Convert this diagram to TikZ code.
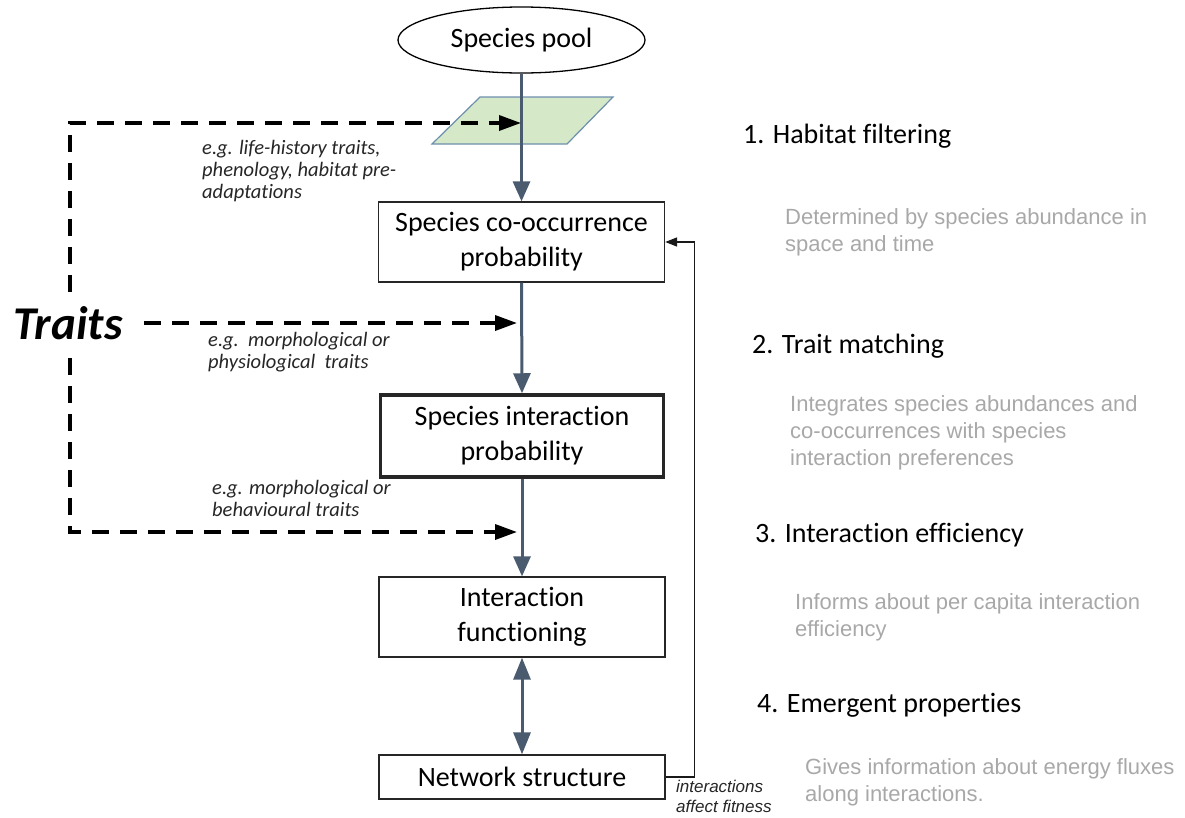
\documentclass[tikz,border=0pt]{standalone}
\usepackage{fontspec}
\setmainfont[Ligatures={NoCommon,NoRare,NoContextual}]{Carlito}
\newfontfamily\arialf{Liberation Sans}
\usetikzlibrary{arrows.meta,shapes.geometric}
\definecolor{slate}{HTML}{4A5B70}
\definecolor{pgreen}{HTML}{D5E8C8}
\definecolor{pborder}{HTML}{6E8FAE}
\definecolor{greytxt}{HTML}{A8A8A8}
\begin{document}
\begin{tikzpicture}[x=1pt,y=-1pt,
  box/.style={draw=black!85, line width=1.3pt, minimum width=286pt, align=center,
    font=\fontsize{28}{35}\selectfont, inner sep=0pt},
  mainarrow/.style={draw=slate, line width=3pt, -{Triangle[width=17pt,length=20pt]}},
  dasharrow/.style={draw=black, line width=3.5pt, dash pattern=on 17pt off 11pt,
    -{Triangle[width=15pt,length=22pt]}},
  fbarrow/.style={draw=black!90, line width=1.6pt, -{Triangle[width=9pt,length=12pt]}},
  heading/.style={anchor=base west, inner sep=0pt, font=\fontsize{28}{33}\selectfont},
  greynote/.style={anchor=north west, inner sep=0pt, align=left, text=greytxt,
    font=\arialf\fontsize{22}{27}\selectfont},
  eglabel/.style={anchor=north west, inner sep=0pt, align=left, text=black!85,
    font=\itshape\fontsize{20.5}{22}\selectfont}]
\useasboundingbox (0,0) rectangle (1185,817);

% species pool
\node[draw=black, line width=1.3pt, ellipse, minimum width=247pt, minimum height=66pt,
  inner sep=0pt, font=\fontsize{28}{33}\selectfont] (pool) at (521.5,40) {Species pool};

% habitat filter parallelogram
\draw[fill=pgreen, draw=pborder, line width=1.2pt] (480,97) -- (613,97) -- (567,144) -- (432,144) -- cycle;

% boxes
\node[box, minimum height=80pt] (box1) at (521.5,242) {Species co-occurrence\\probability};
\node[box, minimum height=82pt, line width=3.5pt, minimum width=283pt] (box2) at (522,436) {Species interaction\\probability};
\node[box, minimum height=80pt] (box3) at (522,617) {Interaction\\functioning};
\node[box, minimum height=44pt] (box4) at (522,777) {Network structure};

% main flow
\draw[mainarrow] (pool.south) -- (box1.north);
\draw[mainarrow] (box1.south) -- (box2.north);
\draw[mainarrow] (box2.south) -- (box3.north);
\draw[draw=slate, line width=3pt, {Triangle[width=17pt,length=22pt]}-{Triangle[width=17pt,length=22pt]}] (box3.south) -- (box4.north);

% feedback
\draw[fbarrow] (box4.east) -- ++(29,0) |- (box1.east);
\node[anchor=north west, inner sep=0pt, align=left, text=black!85,
  font=\arialf\itshape\fontsize{17}{20}\selectfont] (fbl) at (676,780) {interactions\\affect fitness};

% traits
\node[inner sep=0pt, font=\fontsize{47}{47}\selectfont\bfseries\itshape] (traits) at (68,323) {Traits};
\coordinate (t1) at (521,123);
\coordinate (t2) at (517,323);
\coordinate (t3) at (517,532);
\draw[dasharrow] ([xshift=2pt,yshift=14pt]traits.north) -- (70,123) -- (t1);
\draw[dasharrow] ([xshift=21pt]traits.east) -- (t2);
\draw[dasharrow] ([xshift=2pt,yshift=-18pt]traits.south) -- (70,532) -- (t3);

% example labels
\node[eglabel] (eg1) at (202,140) {e.g. life-history traits,\\phenology, habitat pre-\\adaptations};
\node[eglabel] (eg2) at (208,332) {e.g.\ \ morphological or\\physiological\ \ traits};
\node[eglabel] (eg3) at (212,480) {e.g. morphological or\\behavioural traits};

% right column
\node[heading] (h1) at (743,143) {1. Habitat filtering};
\node[greynote] (n1) at (785,208) {Determined by species abundance in\\space and time};
\node[heading] (h2) at (752,353) {2. Trait matching};
\node[greynote] (n2) at (790,395) {Integrates species abundances and\\co-occurrences with species\\interaction preferences};
\node[heading] (h3) at (755,542) {3. Interaction efficiency};
\node[greynote] (n3) at (795,593) {Informs about per capita interaction\\efficiency};
\node[heading] (h4) at (757,712) {4. Emergent properties};
\node[greynote] (n4) at (805,758) {Gives information about energy fluxes\\along interactions.};
\end{tikzpicture}
\end{document}
